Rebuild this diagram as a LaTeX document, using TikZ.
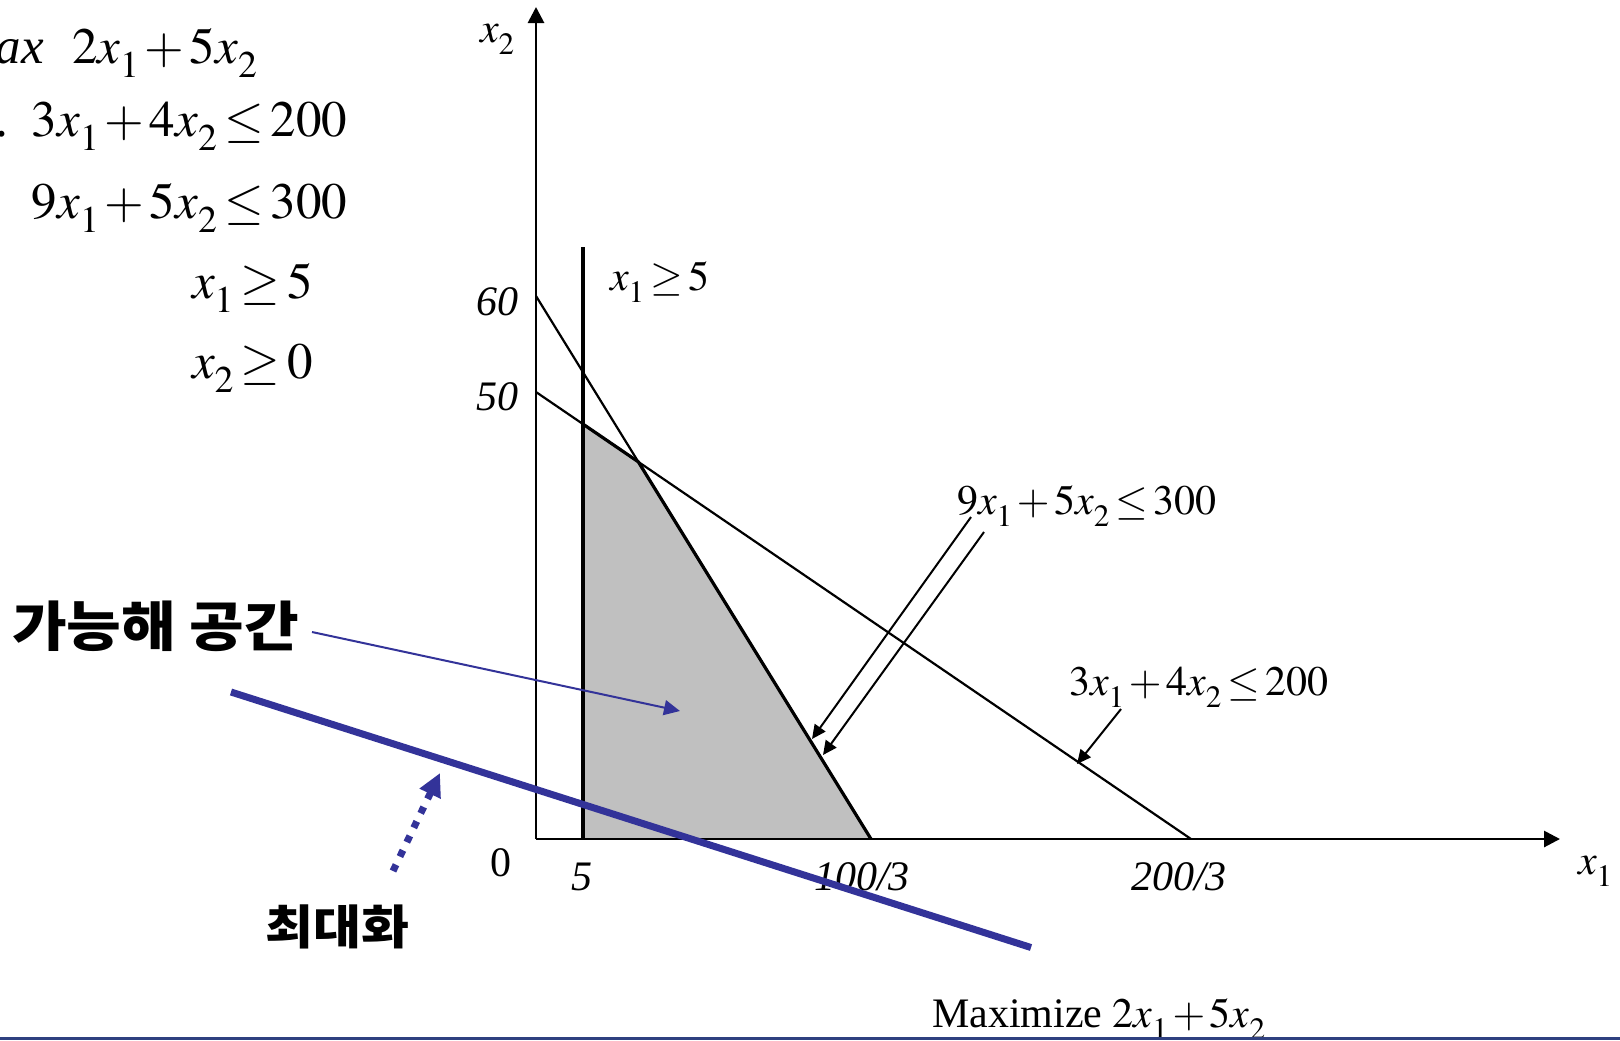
\documentclass[tikz,border=0pt]{standalone}
\usepackage{mathptmx}
\usepackage[no-math]{fontspec}
\setmainfont{Liberation Serif}
\newfontfamily\kr{Noto Sans CJK KR}
\usetikzlibrary{arrows.meta}
\definecolor{navy}{RGB}{51,51,153}
\definecolor{band}{RGB}{47,64,128}
\definecolor{shadegray}{RGB}{192,192,192}
\newcommand\xsub[1]{x_{\raisebox{-0.14em}{$\scriptstyle #1$}}}
\medmuskip=2mu
\thickmuskip=2.5mu
\scriptspace=0pt
\begin{document}
\begin{tikzpicture}[x=0.5pt,y=-0.5pt,
  every node/.style={inner sep=0pt,outer sep=0pt},
  big/.style={font=\fontsize{25.5}{30}\selectfont},
  lab/.style={font=\fontsize{21}{25}\selectfont},
  axisline/.style={line width=1.4pt,-{Triangle[length=8pt,width=8pt]}},
  cons/.style={line width=1.1pt},
  bnd/.style={line width=1.6pt},
  ann/.style={line width=1pt,-{Triangle[length=7pt,width=6.5pt]}},
  bluearrow/.style={navy,line width=1pt,-{Triangle[length=8pt,width=7.5pt]}},
  objline/.style={navy,line width=3.5pt},
  dotarrow/.style={navy,line width=3.5pt,dash pattern=on 3.5pt off 4.5pt,-{Triangle[length=11.5pt,width=11pt]}},
  krbig/.style={font=\kr\bfseries\fontsize{27}{30}\selectfont},
  krsmall/.style={font=\kr\bfseries\fontsize{23.5}{26}\selectfont}]
\useasboundingbox (0,0) rectangle (1620,1040);
% key points
\coordinate (O) at (536,839);
\coordinate (Ytop) at (536,7);
\coordinate (Xend) at (1560,839);
\coordinate (Y60) at (536,296);
\coordinate (Y50) at (536,392);
\coordinate (X100) at (871,839);
\coordinate (X200) at (1191,839);
\coordinate (Vtop) at (583,247);
\coordinate (Vbot) at (583,839);
\coordinate (P1) at (intersection of Y50--X200 and Vbot--Vtop);
\coordinate (P2) at (intersection of Y60--X100 and Y50--X200);
% feasible region
\fill[shadegray] (Vbot) -- (P1) -- (P2) -- (X100) -- cycle;
\draw[cons] (Y60) -- (X100);
\draw[cons] (Y50) -- (X200);
\draw[bnd] (P1) -- (P2) -- (X100);
\draw[bnd] (Vbot) -- (Vtop);
\draw[axisline] (O) -- (Ytop);
\draw[axisline] (O) -- (Xend);
% problem statement
\node[big,anchor=base east] (maxw) at (44,63) {\textit{Max}};
\node[big,anchor=base west] (obj) at (72,63) {$2\xsub1+5\xsub2$};
\node[big,anchor=base east] (st) at (8,136) {s.t.};
\node[big,anchor=base west] (c1) at (32,136) {$3\xsub1+4\xsub2\le 200$};
\node[big,anchor=base west] (c2) at (32,218) {$9\xsub1+5\xsub2\le 300$};
\node[big,anchor=base west] (c3) at (192,298) {$\xsub1\ge 5$};
\node[big,anchor=base west] (c4) at (192,378) {$\xsub2\ge 0$};
% axis labels
\node[lab,anchor=base west] (x2l) at (480,42) {$\xsub2$};
\node[lab,anchor=base east] (l60) at (518,315) {\textit{60}};
\node[lab,anchor=base east] (l50) at (518,410) {\textit{50}};
\node[lab,anchor=base west] (x1c) at (610,290) {$\xsub1\ge 5$};
\node[lab,anchor=base] (l0) at (501,876) {0};
\node[lab,anchor=base] (l5) at (582,890) {\textit{5}};
\node[lab,anchor=base] (l100) at (862,890) {\textit{100/3}};
\node[lab,anchor=base] (l200) at (1179,890) {\textit{200/3}};
\node[lab,anchor=base west] (x1l) at (1578,874) {$\xsub1$};
\node[lab,anchor=base west] (lab9) at (957,514) {$9\xsub1+5\xsub2\le 300$};
\node[lab,anchor=base west] (lab3) at (1069,695) {$3\xsub1+4\xsub2\le 200$};
\node[lab,anchor=base west] (labmax) at (932,1027) {Maximize $2\xsub1+5\xsub2$};
% annotation arrows
\coordinate (a1s) at (971,517);
\coordinate (a1t) at (812,739);
\coordinate (a2s) at (984,532);
\coordinate (a2t) at (823,755);
\coordinate (a3s) at (1121,709);
\coordinate (a3t) at (1077,764);
\draw[ann] (a1s) -- (a1t);
\draw[ann] (a2s) -- (a2t);
\draw[ann] (a3s) -- (a3t);
% korean labels and blue marks
\node[krbig,anchor=west] (feas) at (12,626) {\scalebox{1.1}[1]{가능해 공간}};
\node[krsmall] (maxi) at (337,927) {\scalebox{1.11}[1]{최대화}};
\coordinate (fs) at (312,632);
\coordinate (ft) at (680,711);
\draw[bluearrow] (fs) -- (ft);
\coordinate (ol1) at (231,692);
\coordinate (ol2) at (1031,947.5);
\draw[objline] (ol1) -- (ol2);
\coordinate (ds) at (393,871);
\coordinate (dt) at (440,773);
\draw[dotarrow] (ds) -- (dt);
\fill[band] (0,1037) rectangle (1620,1040);
\end{tikzpicture}
\end{document}
